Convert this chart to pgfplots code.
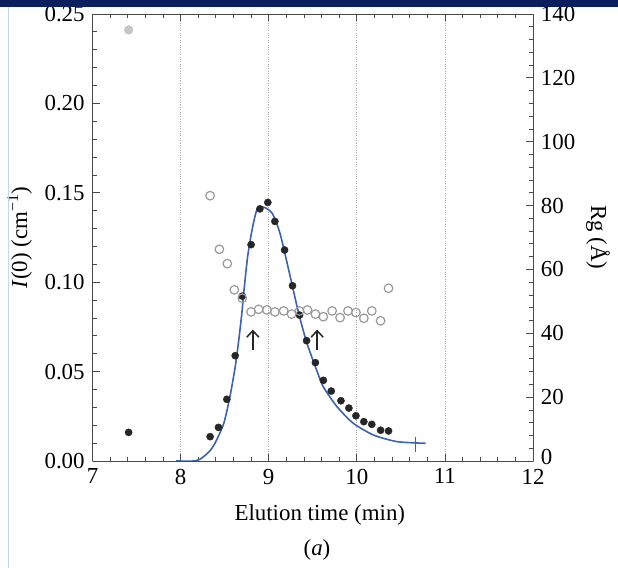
\documentclass[border=0pt]{standalone}
\usepackage{fontspec}
\setmainfont{Liberation Serif}
\usepackage{pgfplots}
\pgfplotsset{compat=1.18}
\usetikzlibrary{arrows.meta}

\definecolor{fitblue}{HTML}{3B63B0}
\definecolor{rggray}{HTML}{9A9A9A}
\definecolor{banner}{HTML}{0B1F5C}
\definecolor{edgeblue}{HTML}{C4D6EC}
\definecolor{axisgray}{HTML}{4A4A4A}

\begin{document}
\fontsize{23}{27}\selectfont
\begin{tikzpicture}[x=1bp,y=1bp]
\path[use as bounding box] (0,0) rectangle (618,568);

\pgfplotsset{
  base/.style={
    scale only axis, width=440.5bp, height=447bp,
    at={(92.5bp,107bp)}, anchor=south west,
    xmin=7, xmax=12,
    tick align=inside,
    major tick length=7bp, minor tick length=4bp,
    minor tick num=4,
    axis line style={axisgray, line width=0.9bp},
    every tick/.style={axisgray, line width=0.8bp},
    /pgf/number format/assume math mode=true,
    tick label style={font=\fontsize{23}{27}\selectfont},
    label style={font=\fontsize{23}{27}\selectfont},
  }
}

% I(0) on the left axis, with the fitted profile
\begin{axis}[base,
  ymin=0, ymax=0.25,
  ytick={0,0.05,0.10,0.15,0.20,0.25},
  yticklabel style={/pgf/number format/.cd, fixed, fixed zerofill, precision=2},
  axis y line*=left,
  xtick={7,8,9,10,11,12},
  xmajorgrids, grid style={gray!70, dotted, line width=0.8bp},
  xlabel={Elution time (min)},
  xlabel style={at={(axis description cs:0.516,-0.121)}, anchor=center},
  ylabel={\textit{I}(0) (cm\textsuperscript{−1})},
  ylabel style={at={(axis description cs:-0.165,0.5)}, anchor=center},
]
\addplot[fitblue, line width=1.6bp, smooth, tension=0.4] coordinates {
  (7.95,0) (8.15,0) (8.22,0.001) (8.26,0.0024) (8.33,0.0055) (8.39,0.0099)
  (8.49,0.021) (8.56,0.036) (8.62,0.0527) (8.66,0.0676) (8.695,0.0826)
  (8.72,0.0956) (8.76,0.114) (8.81,0.129) (8.865,0.1403) (8.94,0.142)
  (9.04,0.1385) (9.13,0.127) (9.245,0.103) (9.34,0.0826) (9.43,0.0665)
  (9.53,0.0527) (9.62,0.0415) (9.775,0.0304) (9.96,0.0211) (10.19,0.0145)
  (10.46,0.0108) (10.78,0.0099)
};
\addplot[fitblue, only marks, mark=|, mark size=7.5bp, mark options={line width=1bp}]
  coordinates {(10.665,0.0095)};
\addplot[only marks, mark=*, mark size=3.6bp, black!85, mark options={fill=black!85}] coordinates {
  (7.41,0.016) (8.335,0.0136) (8.43,0.0188) (8.525,0.0345) (8.62,0.0589)
  (8.70,0.0922) (8.80,0.121) (8.90,0.141) (8.99,0.1446) (9.07,0.134)
  (9.18,0.118) (9.27,0.098) (9.35,0.0816) (9.43,0.0673) (9.53,0.055)
  (9.62,0.0451) (9.71,0.0391) (9.82,0.0337) (9.91,0.0296) (9.99,0.0253)
  (10.08,0.022) (10.17,0.0205) (10.27,0.0172) (10.36,0.0168)
};
\draw[-{Straight Barb[length=6.5bp,width=12bp,line width=1.5bp]}, line width=1.5bp, black!85]
  (axis cs:8.82,0.062) -- (axis cs:8.82,0.0735);
\draw[-{Straight Barb[length=6.5bp,width=12bp,line width=1.5bp]}, line width=1.5bp, black!85]
  (axis cs:9.55,0.062) -- (axis cs:9.55,0.0735);
\end{axis}

% Rg on the right axis
\begin{axis}[base,
  axis x line=none,
  axis y line*=right,
  ymin=0, ymax=140,
  ytick={0,20,40,60,80,100,120,140},
  yticklabels={\raisebox{8bp}{0},20,40,60,80,100,120,140},
  ylabel={Rg (Å)},
  ylabel style={rotate=180, at={(axis description cs:1.1476,0.5)}, anchor=center},
]
\addplot[only marks, mark=o, mark size=4.3bp, rggray, mark options={line width=1.2bp}] coordinates {
  (8.335,83.1) (8.44,66.3) (8.53,61.8) (8.61,53.6) (8.70,51.0) (8.80,46.7)
  (8.885,47.5) (8.98,47.3) (9.07,46.7) (9.17,47.0) (9.26,46.0) (9.35,47.0)
  (9.44,47.3) (9.53,46.0) (9.62,45.2) (9.72,47.0) (9.81,44.9) (9.90,47.0)
  (9.99,46.5) (10.08,44.7) (10.17,47.0) (10.27,43.9) (10.36,54.1)
};
\addplot[only marks, mark=*, mark size=4.3bp, rggray!70, mark options={fill=rggray!55}]
  coordinates {(7.41,135)};
\end{axis}

\node[font=\fontsize{23}{27}\selectfont] at (317,18) {(\textit{a})};
\draw[edgeblue, line width=1.5bp] (8.5,0) -- (8.5,561);
\fill[banner] (0,561) rectangle (618,568);
\end{tikzpicture}
\end{document}
